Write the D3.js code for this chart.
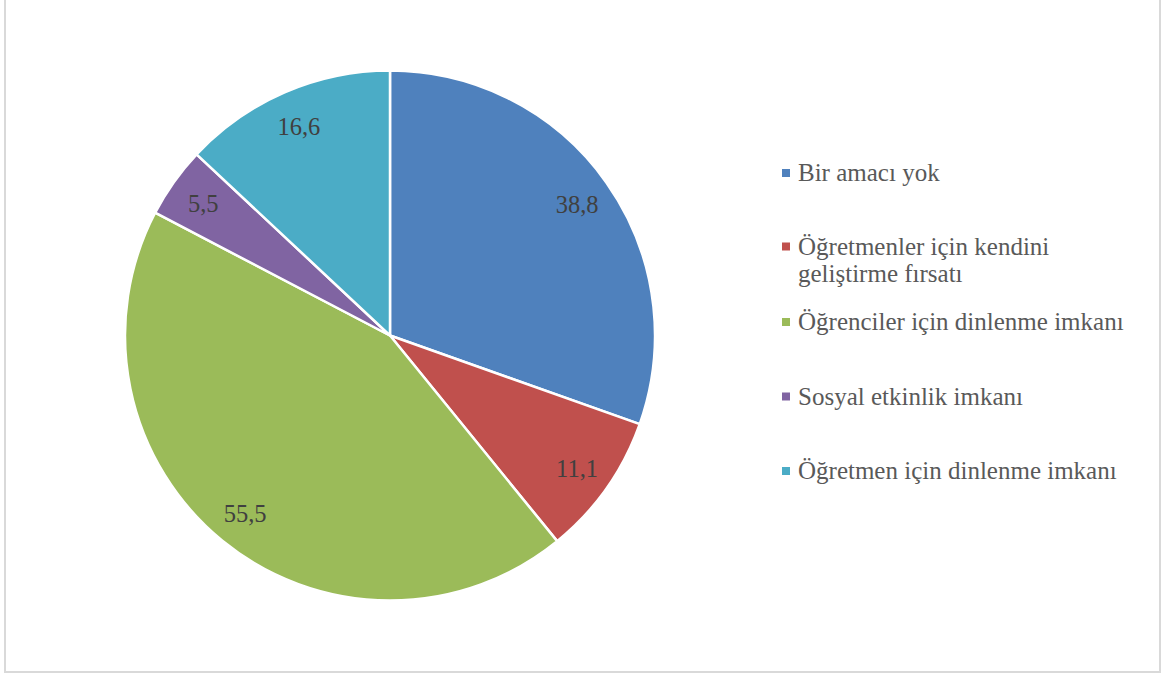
<!DOCTYPE html>
<html><head><meta charset="utf-8">
<script src="https://cdn.jsdelivr.net/npm/d3@7"></script>
<style>body{margin:0;background:#fff}svg{display:block}</style>
</head><body>
<script>
const categories = ["Bir amacı yok", "Öğretmenler için kendini geliştirme fırsatı", "Öğrenciler için dinlenme imkanı", "Sosyal etkinlik imkanı", "Öğretmen için dinlenme imkanı"];
const legendLines = [["Bir amacı yok"], ["Öğretmenler için kendini", "geliştirme fırsatı"], ["Öğrenciler için dinlenme imkanı"], ["Sosyal etkinlik imkanı"], ["Öğretmen için dinlenme imkanı"]];
const values = [38.8, 11.1, 55.5, 5.5, 16.6];
const valueLabels = ["38,8", "11,1", "55,5", "5,5", "16,6"];
const colors = ["#4F81BD", "#C0504D", "#9BBB59", "#8064A2", "#4BACC6"];

const W = 1168, H = 676;
const svg = d3.select("body").append("svg").attr("width", W).attr("height", H);
svg.append("rect").attr("x", 5).attr("y", -1).attr("width", 1155).attr("height", 673)
  .attr("fill", "#fff").attr("stroke", "#d9d9d9").attr("stroke-width", 2);

const cx = 390, cy = 335.5, R = 265;
const font = "'Liberation Serif', 'DejaVu Serif', serif";
const pie = d3.pie().sort(null).value(d => d)(values);
const arc = d3.arc().innerRadius(0).outerRadius(R);
const labelArc = d3.arc().innerRadius(229).outerRadius(229);
const g = svg.append("g").attr("transform", `translate(${cx},${cy})`);
g.selectAll("path").data(pie).join("path")
  .attr("d", arc).attr("fill", (d, i) => colors[i])
  .attr("stroke", "#fff").attr("stroke-width", 2.5).attr("stroke-linejoin", "round");
g.selectAll("text").data(pie).join("text")
  .attr("transform", d => `translate(${labelArc.centroid(d)})`)
  .attr("text-anchor", "middle").attr("dy", "0.38em")
  .attr("font-family", font).attr("font-size", 24.5).attr("fill", "#404040")
  .text((d, i) => valueLabels[i]);

const legendY = d3.scalePoint().domain(d3.range(categories.length)).range([173, 471]);
const lg = svg.append("g");
const item = lg.selectAll("g").data(categories).join("g")
  .attr("transform", (d, i) => `translate(782,${legendY(i) + (i === 1 ? -1 : 0)})`);
item.append("rect").attr("x", 0).attr("y", -4).attr("width", 8).attr("height", 8)
  .attr("fill", (d, i) => colors[i]);
item.append("text").attr("x", 16).attr("y", 8)
  .attr("font-family", font).attr("font-size", 25).attr("fill", "#595959")
  .selectAll("tspan").data((d, i) => legendLines[i]).join("tspan")
  .attr("x", 16).attr("dy", (d, j) => j === 0 ? 0 : 27).text(d => d);
</script>
</body></html>
